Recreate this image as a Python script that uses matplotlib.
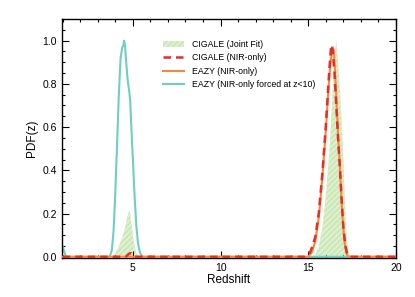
import matplotlib
matplotlib.use('Agg')
import matplotlib.pyplot as plt
from matplotlib.ticker import MultipleLocator

plt.rcParams['font.family'] = ['Liberation Sans', 'DejaVu Sans']
plt.rcParams['hatch.linewidth'] = 1.0

# -----------------------------------------------------------------------------
# data

z_teal = [1.0, 1.1, 1.2, 3.6, 3.7, 3.8, 3.9, 4.0, 4.1, 4.2, 4.3, 4.4, 4.45, 4.5,
          4.55, 4.6, 4.7, 4.8, 4.85, 4.9, 5.0, 5.1, 5.2, 5.3, 5.4, 5.5, 5.6, 20.0]
p_teal = [0.048, 0.02, 0.0, 0.0, 0.005, 0.03, 0.12, 0.3, 0.52, 0.75, 0.92, 0.97,
          0.975, 1.0, 0.98, 0.92, 0.82, 0.76, 0.72, 0.62, 0.45, 0.28, 0.14, 0.06,
          0.02, 0.005, 0.0, 0.0]

z_joint = [1.0, 3.8, 3.9, 4.0, 4.1, 4.2, 4.3, 4.4, 4.5, 4.6, 4.7, 4.8, 4.85, 4.9,
           5.0, 5.1, 5.2, 5.3, 15.2, 15.4, 15.6, 15.8, 16.0, 16.2, 16.3, 16.4,
           16.5, 16.6, 16.7, 16.8, 16.9, 17.0, 17.1, 17.2, 17.3, 17.4, 20.0]
p_joint = [0.0, 0.0, 0.005, 0.015, 0.03, 0.05, 0.07, 0.09, 0.12, 0.15, 0.19, 0.213,
           0.2, 0.17, 0.1, 0.05, 0.015, 0.0, 0.0, 0.01, 0.05, 0.13, 0.28, 0.48,
           0.62, 0.78, 0.92, 1.0, 0.9, 0.78, 0.64, 0.46, 0.24, 0.08, 0.02, 0.0, 0.0]

z_cig = [1.0, 4.6, 4.7, 4.8, 4.9, 5.0, 5.1, 5.2, 14.8, 15.0, 15.1, 15.2, 15.4, 15.6,
         15.8, 16.0, 16.1, 16.2, 16.3, 16.35, 16.4, 16.5, 16.6, 16.7, 16.8, 16.9,
         17.0, 17.1, 17.2, 17.3, 17.4, 20.0]
p_cig = [0.0, 0.0, 0.008, 0.015, 0.017, 0.012, 0.003, 0.0, 0.0, 0.01, 0.02, 0.04,
         0.09, 0.2, 0.38, 0.6, 0.73, 0.86, 0.97, 0.98, 0.95, 0.85, 0.7, 0.55, 0.42,
         0.27, 0.14, 0.06, 0.02, 0.005, 0.0, 0.0]

z_eazy = [1.0, 15.0, 15.2, 15.4, 15.6, 15.8, 16.0, 16.1, 16.2, 16.3, 16.4, 16.45,
          16.5, 16.6, 16.7, 16.8, 16.9, 17.0, 17.1, 17.2, 17.3, 20.0]
p_eazy = [0.0, 0.0, 0.02, 0.07, 0.18, 0.36, 0.58, 0.71, 0.83, 0.92, 0.96, 0.96,
          0.9, 0.74, 0.57, 0.42, 0.26, 0.13, 0.05, 0.01, 0.0, 0.0]

# -----------------------------------------------------------------------------
# plot

fig = plt.figure(figsize=(4.15, 2.97), dpi=100)
ax = fig.add_axes([0.149, 0.131, 0.805, 0.805])

ax.fill_between(z_joint, p_joint, color='#cde8b8', hatch='//////',
                edgecolor='#e4f3d8', linewidth=0, label='CIGALE (Joint Fit)')
ax.plot(z_cig, p_cig, color='#e0302a', lw=1.8, ls=(0, (3, 2)), zorder=4,
        label='CIGALE (NIR-only)')
ax.plot(z_eazy, p_eazy, color='#ff8533', lw=1.5, zorder=3, label='EAZY (NIR-only)')
ax.plot(z_teal, p_teal, color='#6fcfc0', lw=1.5, zorder=2,
        label='EAZY (NIR-only forced at z<10)')

ax.set_xlim(0.95, 20)
ax.set_ylim(-0.006, 1.1)
ax.xaxis.set_major_locator(MultipleLocator(5))
ax.xaxis.set_minor_locator(MultipleLocator(1))
ax.yaxis.set_major_locator(MultipleLocator(0.2))
ax.yaxis.set_minor_locator(MultipleLocator(0.05))
ax.tick_params(which='both', direction='in', top=True, right=True, labelsize=7.5, width=0.8)
ax.tick_params(which='major', length=5)
ax.tick_params(which='minor', length=2.5)
for s in ax.spines.values():
    s.set_linewidth(1.0)

ax.set_xlabel('Redshift', fontsize=8.5, labelpad=1)
ax.set_ylabel('PDF(z)', fontsize=8.5, labelpad=3)

ax.legend(loc='upper left', bbox_to_anchor=(0.28, 0.945), frameon=False, fontsize=6.3,
          handlelength=2.4, labelspacing=0.5, handletextpad=0.9)

fig.savefig('out.png', dpi=100)
